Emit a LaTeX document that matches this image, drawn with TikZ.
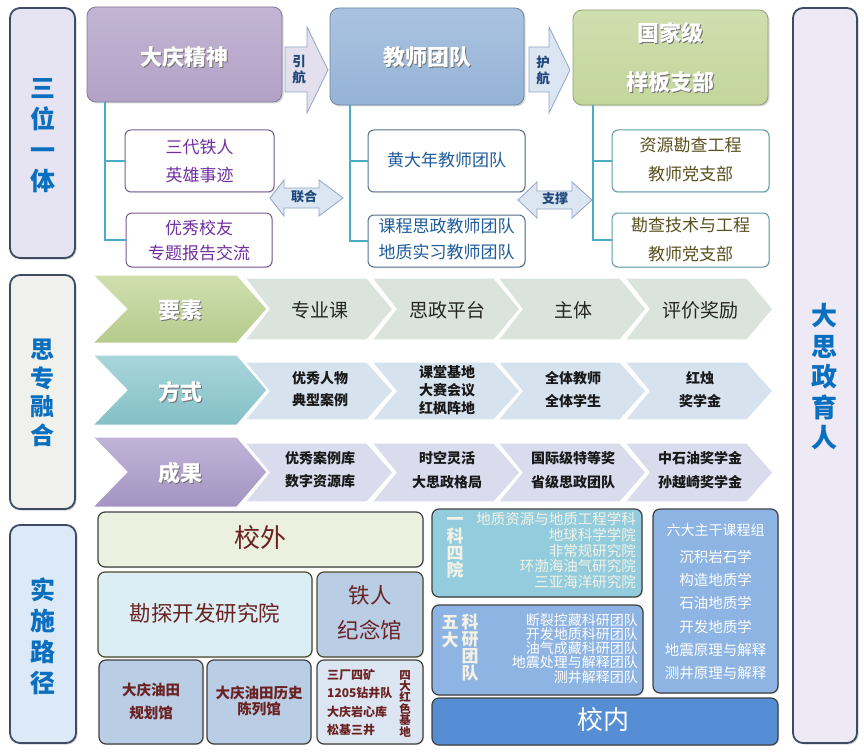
\documentclass[tikz,border=0pt]{standalone}
\usepackage{fontspec}
\setmainfont{Noto Sans CJK SC}
\usetikzlibrary{shadows,calc}
\definecolor{panelborder}{HTML}{3E4B63}
\definecolor{panelA}{HTML}{E6E3F2}
\definecolor{panelB}{HTML}{F0F1EC}
\definecolor{panelC}{HTML}{DCE9F7}
\definecolor{panelD}{HTML}{EDEAF6}
\definecolor{bigblue}{HTML}{0B6FBF}
\definecolor{dqpurple}{HTML}{B3A2C7}
\definecolor{jsblue}{HTML}{95B3D7}
\definecolor{gjgreen}{HTML}{C3D69B}
\definecolor{connline}{HTML}{4BACC6}
\definecolor{txtpurple}{HTML}{7030A0}
\definecolor{txtblue}{HTML}{1F5C99}
\definecolor{txtolive}{HTML}{5A5120}
\definecolor{arrowfillA}{HTML}{E4DFEC}
\definecolor{arrowfillB}{HTML}{DCE6F2}
\definecolor{arrowdraw}{HTML}{8EA4C8}
\definecolor{arrowtxt}{HTML}{1F497D}
\definecolor{chgreen}{HTML}{BFD594}
\definecolor{chteal}{HTML}{8BC9D0}
\definecolor{chpurple}{HTML}{AC9BCB}
\definecolor{subA}{HTML}{DAE4DC}
\definecolor{subB}{HTML}{D6E3EE}
\definecolor{subC}{HTML}{DBDBEE}
\definecolor{txtbrown}{HTML}{6A2222}
\definecolor{bxolive}{HTML}{EBF1DE}
\definecolor{bxcyan}{HTML}{DBEEF3}
\definecolor{bxblue}{HTML}{B9CDE5}
\definecolor{bxlight}{HTML}{DCE6F2}
\definecolor{bxteal}{HTML}{93CDDD}
\definecolor{bxmid}{HTML}{8DB4E2}
\definecolor{bxdeep}{HTML}{558ED5}
\definecolor{cream}{HTML}{F4F2E6}
\newcommand{\setfs}[2]{\fontsize{#1}{#2}\selectfont}
\newcommand{\chev}[7]{%
  \path[#7] (#1,#2) -- ({#1+#4},#2) -- ({#1+#4+#5},{(#2+#3)/2}) -- ({#1+#4},#3) -- (#1,#3) -- ({#1+#6},{(#2+#3)/2}) -- cycle;}
\begin{document}
\begin{tikzpicture}[x=1pt,y=-1pt,
  panel/.style={draw=panelborder, line width=1.8pt, rounded corners=10pt, inner sep=0pt,
    drop shadow={opacity=0.35,shadow xshift=1.5pt,shadow yshift=-1.5pt}},
  bigtxt/.style={text=bigblue, font=\setfs{25}{31}\bfseries, align=center, inner sep=0pt},
  headbox/.style={draw=#1!75!black, line width=0.8pt, rounded corners=9pt, inner sep=0pt,
    top color=#1!80!white, bottom color=#1,
    drop shadow={opacity=0.3,shadow xshift=1.5pt,shadow yshift=-1.5pt}},
  headtxt/.style={text=white, font=\setfs{22}{49}\bfseries, align=center, inner sep=0pt},
  headsh/.style={text=black!55, font=\setfs{22}{49}\bfseries, align=center, inner sep=0pt},
  subbox/.style={draw=#1, line width=1pt, rounded corners=6pt, fill=white, inner sep=0pt,
    drop shadow={opacity=0.2,shadow xshift=1pt,shadow yshift=-1pt}},
  subtxt/.style={font=\setfs{17}{28}, align=center, inner sep=0pt},
  conn/.style={draw=connline, line width=2pt},
  arrowsty/.style={draw=arrowdraw, line width=0.8pt},
  arrtxt/.style={text=arrowtxt, font=\setfs{13.5}{16}\bfseries, align=center, inner sep=0pt},
  chtxt/.style={text=black!90, font=\setfs{14}{22}\bfseries, align=center, inner sep=0pt},
  rowtxt/.style={text=black!85, font=\setfs{19}{22}, align=center, inner sep=0pt},
  lowbox/.style={draw=black!75, line width=1.2pt, rounded corners=7pt, inner sep=0pt,
    drop shadow={opacity=0.25,shadow xshift=1pt,shadow yshift=-1pt}},
  browntxt/.style={text=txtbrown, align=center, inner sep=0pt},
  whitetxt/.style={text=white, align=center, inner sep=0pt}
]
\useasboundingbox (0,0) rectangle (864,754);

% ---------- left and right panels ----------
\node[panel, fill=panelA, minimum width=65pt, minimum height=250pt] (p1) at (42.5,133) {};
\node[bigtxt] (p1t) at (42.5,136) {三\\位\\一\\体};
\node[panel, fill=panelB, minimum width=65pt, minimum height=234pt] (p2) at (42.5,392) {};
\node[bigtxt, font=\setfs{24}{28.5}\bfseries] (p2t) at (42.5,393) {思\\专\\融\\合};
\node[panel, fill=panelC, minimum width=66pt, minimum height=218pt] (p3) at (43,634) {};
\node[bigtxt] (p3t) at (43,636) {实\\施\\路\\径};
\node[panel, fill=panelD, minimum width=64pt, minimum height=735pt] (p4) at (825,375.5) {};
\node[bigtxt, font=\setfs{26}{30.5}\bfseries] (p4t) at (824,377) {大\\思\\政\\育\\人};

% ---------- top head boxes ----------
\node[headbox=dqpurple, minimum width=195pt, minimum height=95pt] (dq) at (184.5,54.5) {};
\node[headsh] (dqs) at (185.8,58.3) {大庆精神};
\node[headtxt] (dqt) at (184.5,57) {大庆精神};
\node[headbox=jsblue, minimum width=194pt, minimum height=97pt] (js) at (427,56.5) {};
\node[headsh] (jss) at (428.3,58.3) {教师团队};
\node[headtxt] (jst) at (427,57) {教师团队};
\node[headbox=gjgreen, minimum width=195pt, minimum height=95pt] (gj) at (670.5,57.5) {};
\node[headsh] (gjs) at (671.8,58.8) {国家级\\样板支部};
\node[headtxt] (gjt) at (670.5,57.5) {国家级\\样板支部};

% ---------- arrows between head boxes ----------
\path[arrowsty, fill=arrowfillA] (285,47) -- (307,47) -- (307,27) -- (328,70) -- (307,113) -- (307,92) -- (285,92) -- cycle;
\node[arrtxt] (yh) at (299,70) {引\\航};
\path[arrowsty, fill=arrowfillB] (529,47) -- (549,47) -- (549,27) -- (570,70) -- (549,113) -- (549,92) -- (529,92) -- cycle;
\node[arrtxt] (hh) at (543,70) {护\\航};

% ---------- sub boxes ----------
\node[subbox=txtpurple!45!gray, minimum width=149pt, minimum height=62pt] (s1) at (199.5,161) {};
\node[subtxt, text=txtpurple] (s1t) at (199.5,161) {三代铁人\\英雄事迹};
\node[subbox=txtpurple!45!gray, minimum width=146pt, minimum height=54pt] (s2) at (199,240) {};
\node[subtxt, text=txtpurple, font=\setfs{17}{25}] (s2t) at (199,240.5) {优秀校友\\专题报告交流};
\node[subbox=txtblue!45!gray, minimum width=157pt, minimum height=62pt] (t1) at (446.5,161) {};
\node[subtxt, text=txtblue] (t1t) at (446.5,160) {黄大年教师团队};
\node[subbox=txtblue!45!gray, minimum width=157pt, minimum height=52pt] (t2) at (446.5,241) {};
\node[subtxt, text=txtblue, font=\setfs{17}{26}] (t2t) at (446.5,239.5) {课程思政教师团队\\地质实习教师团队};
\node[subbox=connline!60!gray, minimum width=157pt, minimum height=62pt] (g1) at (690.5,161) {};
\node[subtxt, text=txtolive, font=\setfs{17}{29}] (g1t) at (690.5,159.5) {资源勘查工程\\教师党支部};
\node[subbox=connline!60!gray, minimum width=157pt, minimum height=54pt] (g2) at (690.5,240) {};
\node[subtxt, text=txtolive, font=\setfs{17}{29}] (g2t) at (690.5,239.5) {勘查技术与工程\\教师党支部};

% ---------- connectors ----------
\draw[conn] ([xshift=18pt]dq.south west) |- (s2.west);
\draw[conn] ([xshift=18pt]dq.south west) |- (s1.west);
\draw[conn] ([xshift=20pt]js.south west) |- (t2.west);
\draw[conn] ([xshift=20pt]js.south west) |- (t1.west);
\draw[conn] ([xshift=20pt]gj.south west) |- (g2.west);
\draw[conn] ([xshift=20pt]gj.south west) |- (g1.west);

% ---------- double arrows ----------
\path[arrowsty, fill=arrowfillB] (270,198) -- (284,180) -- (284,188) -- (319,188) -- (319,180) -- (343,198) -- (319,216) -- (319,208) -- (284,208) -- (284,216) -- cycle;
\node[arrtxt, font=\setfs{13}{16}\bfseries] (lh) at (304,197) {联合};
\path[arrowsty, fill=arrowfillB] (518,200) -- (537,182) -- (537,191) -- (572,191) -- (572,182) -- (592,200) -- (572,218) -- (572,209) -- (537,209) -- (537,218) -- cycle;
\node[arrtxt, font=\setfs{13}{16}\bfseries] (zc) at (555,199) {支撑};

% ---------- chevron rows ----------
\chev{93}{275}{343}{144}{30}{34}{draw=white, line width=1pt, top color=chgreen!75!white, bottom color=chgreen!95!black}
\chev{93}{355}{425}{144}{30}{34}{draw=white, line width=1pt, top color=chteal!75!white, bottom color=chteal!95!black}
\chev{93}{437}{507}{144}{30}{34}{draw=white, line width=1pt, top color=chpurple!75!white, bottom color=chpurple!95!black}
\foreach \L in {245,372,498,625}{
  \chev{\L}{278}{340}{122}{26}{24}{draw=white, line width=1.2pt, fill=subA}
  \chev{\L}{362}{420}{122}{26}{24}{draw=white, line width=1.2pt, fill=subB}
  \chev{\L}{443}{502}{122}{26}{24}{draw=white, line width=1.2pt, fill=subC}
}
\node[headsh] (ys) at (181.2,311.2) {要素};
\node[headtxt] (yt) at (180,310) {要素};
\node[headsh] (fs) at (181.2,393.2) {方式};
\node[headtxt] (ft) at (180,392) {方式};
\node[headsh] (cs) at (181.2,474.2) {成果};
\node[headtxt] (ct) at (180,473) {成果};

\node[rowtxt] (r11) at (320,310) {专业课};
\node[rowtxt] (r12) at (447,310) {思政平台};
\node[rowtxt] (r13) at (573,310) {主体};
\node[rowtxt] (r14) at (700,310) {评价奖励};

\node[chtxt] (r21) at (320,389) {优秀人物\\典型案例};
\node[chtxt, font=\setfs{14}{18}\bfseries] (r22) at (447,390) {课堂基地\\大赛会议\\红枫阵地};
\node[chtxt, font=\setfs{14}{23}\bfseries] (r23) at (573,389.5) {全体教师\\全体学生};
\node[chtxt, font=\setfs{14}{23}\bfseries] (r24) at (700,389.5) {红烛\\奖学金};

\node[chtxt, font=\setfs{14}{23.5}\bfseries] (r31) at (320,469.5) {优秀案例库\\数字资源库};
\node[chtxt, font=\setfs{14}{24}\bfseries] (r32) at (447,470) {时空灵活\\大思政格局};
\node[chtxt, font=\setfs{14}{24}\bfseries] (r33) at (573,470) {国际级特等奖\\省级思政团队};
\node[chtxt, font=\setfs{14}{24}\bfseries] (r34) at (700,470) {中石油奖学金\\孙越崎奖学金};

% ---------- bottom left: off campus ----------
\node[lowbox, fill=bxolive, minimum width=325pt, minimum height=55pt] (xw) at (260.5,539.5) {};
\node[browntxt, font=\setfs{26}{30}] (xwt) at (260,538) {校外};
\node[lowbox, draw=black!60!olive, fill=bxcyan, minimum width=214pt, minimum height=85pt] (kt) at (205,614.5) {};
\node[browntxt, font=\setfs{21.5}{26}] (ktt) at (205,613) {勘探开发研究院};
\node[lowbox, draw=black!60!olive, fill=bxblue, minimum width=106pt, minimum height=85pt] (tr) at (370,614.5) {};
\node[browntxt, font=\setfs{21.5}{35}] (trt) at (370,612.5) {铁人\\纪念馆};
\node[lowbox, fill=bxblue, minimum width=104pt, minimum height=84pt] (gh) at (151,702) {};
\node[browntxt, font=\setfs{14.5}{23}\bfseries] (ght) at (151,701.5) {大庆油田\\规划馆};
\node[lowbox, fill=bxblue, minimum width=104pt, minimum height=84pt] (ls) at (259,702) {};
\node[browntxt, font=\setfs{14.5}{16.5}\bfseries] (lst) at (259,701) {大庆油田历史\\陈列馆};
\node[lowbox, fill=bxlight, minimum width=106pt, minimum height=84pt] (sd) at (370,702) {};
\node[browntxt, anchor=west, align=left, font=\setfs{12}{18.3}\bfseries] (sdl) at (327,702.5) {三厂四矿\\1205钻井队\\大庆岩心库\\松基三井};
\node[browntxt, font=\setfs{11.5}{11.4}\bfseries] (sdv) at (405,703.5) {四\\大\\红\\色\\基\\地};

% ---------- bottom right: on campus ----------
\node[lowbox, fill=bxteal, minimum width=210pt, minimum height=88pt] (yk) at (537,553) {};
\node[whitetxt, text=cream, font=\setfs{17}{17}\bfseries] (ykv) at (455,548) {一\\科\\四\\院};
\node[whitetxt, text=cream, anchor=east, align=right, font=\setfs{14.5}{15.7}] (ykl) at (636,550.5) {地质资源与地质工程学科\\地球科学学院\\非常规研究院\\环渤海油气研究院\\三亚海洋研究院};
\node[lowbox, fill=bxmid, minimum width=211pt, minimum height=90pt] (wd) at (537.5,650) {};
\node[whitetxt, text=cream, font=\setfs{17}{18}\bfseries] (wdv1) at (450,631.5) {五\\大};
\node[whitetxt, text=cream, font=\setfs{17}{17}\bfseries] (wdv2) at (470,648) {科\\研\\团\\队};
\node[whitetxt, anchor=east, align=right, font=\setfs{14}{14.2}] (wdl) at (638,648.5) {断裂控藏科研团队\\开发地质科研团队\\油气成藏科研团队\\地震处理与解释团队\\测井解释团队};
\node[lowbox, fill=bxmid, minimum width=125pt, minimum height=184pt] (ld) at (715.5,601) {};
\node[whitetxt, font=\setfs{14}{16}] (ldt) at (715.5,530) {六大主干课程组};
\node[whitetxt, font=\setfs{14.5}{23.2}] (ldl) at (715.5,615) {沉积岩石学\\构造地质学\\石油地质学\\开发地质学\\地震原理与解释\\测井原理与解释};
\node[lowbox, fill=bxdeep, minimum width=346pt, minimum height=47pt] (xn) at (605,721.5) {};
\node[whitetxt, font=\setfs{26}{30}] (xnt) at (603,720) {校内};

\end{tikzpicture}
\end{document}
